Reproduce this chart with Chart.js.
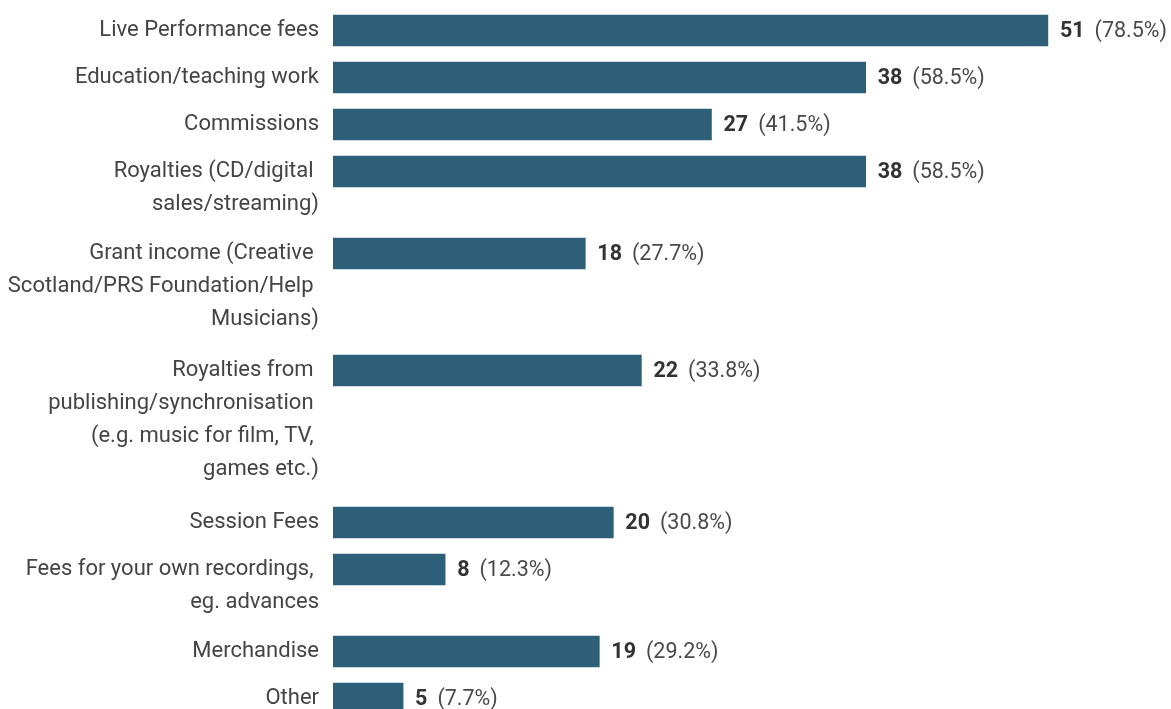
<!DOCTYPE html>
<html>
<head>
<meta charset="utf-8">
<script src="https://cdn.jsdelivr.net/npm/chart.js"></script>
<style>
  html, body { margin: 0; padding: 0; background: #fff; }
  #wrap { width: 1171px; height: 709px; position: relative; }
</style>
</head>
<body>
<div id="wrap"><canvas id="chart"></canvas></div>
<script>
// label lines for each category (wrapped as in the source)
const categories = [
    ["Live Performance fees"],
    ["Education/teaching work"],
    ["Commissions"],
    ["Royalties (CD/digital ", "sales/streaming)"],
    ["Grant income (Creative ", "Scotland/PRS Foundation/Help ", "Musicians)"],
    ["Royalties from ", "publishing/synchronisation ", "(e.g. music for film, TV, ", "games etc.)"],
    ["Session Fees"],
    ["Fees for your own recordings, ", "eg. advances"],
    ["Merchandise"],
    ["Other"]
];
const counts = [51, 38, 27, 38, 18, 22, 20, 8, 19, 5];
const percents = ["78.5%", "58.5%", "41.5%", "58.5%", "27.7%", "33.8%", "30.8%", "12.3%", "29.2%", "7.7%"];

// layout of rows: wrapped labels push the next bar down
const firstRow = 30.5, rowStep = 47, extraLine = 35, lineGap = 33;
let barPos = [];
let lineTicks = [];
let pos = firstRow;
categories.forEach(lines => {
    barPos.push(pos);
    lines.forEach((txt, j) => lineTicks.push({value: pos + j * lineGap, text: txt}));
    pos += rowStep + (lines.length - 1) * extraLine;
});

const font = "Roboto";

const valueLabels = {
    id: 'valueLabels',
    afterDatasetsDraw(chart) {
        const ctx = chart.ctx;
        const meta = chart.getDatasetMeta(0);
        ctx.save();
        ctx.textBaseline = 'middle';
        ctx.textAlign = 'left';
        meta.data.forEach((bar, i) => {
            let x = bar.x + 12;
            ctx.font = "bold 21.5px " + font;
            ctx.fillStyle = "#333333";
            ctx.fillText(String(counts[i]), x, bar.y + 1);
            x += ctx.measureText(String(counts[i])).width + 10;
            ctx.font = "21.5px " + font;
            ctx.fillStyle = "#4a4a4a";
            ctx.fillText("(" + percents[i] + ")", x, bar.y + 1);
        });
        ctx.restore();
    }
};

new Chart(document.getElementById('chart'), {
    type: 'bar',
    data: {
        datasets: [{
            data: counts.map((c, i) => ({x: c, y: barPos[i]})),
            backgroundColor: '#2e5f78',
            barThickness: 31
        }]
    },
    options: {
        indexAxis: 'y',
        responsive: true,
        maintainAspectRatio: false,
        animation: false,
        layout: {padding: {left: 0, right: 25, top: 0, bottom: 0}},
        plugins: {
            legend: {display: false},
            tooltip: {enabled: false}
        },
        scales: {
            x: {
                type: 'linear',
                display: false,
                min: 0,
                max: 58
            },
            y: {
                type: 'linear',
                reverse: true,
                offset: false,
                min: 0,
                max: 709,
                grid: {display: false, drawTicks: false},
                border: {display: false},
                afterBuildTicks(scale) {
                    scale.ticks = lineTicks.map(t => ({value: t.value}));
                },
                afterFit(scale) {
                    scale.width = 333;
                    scale.paddingTop = 0;
                    scale.paddingBottom = 0;
                },
                ticks: {
                    autoSkip: false,
                    padding: 14,
                    color: '#444444',
                    font: {family: font, size: 22},
                    callback: (value, index) => lineTicks[index] ? lineTicks[index].text : ''
                }
            }
        }
    },
    plugins: [valueLabels]
});
</script>
</body>
</html>
